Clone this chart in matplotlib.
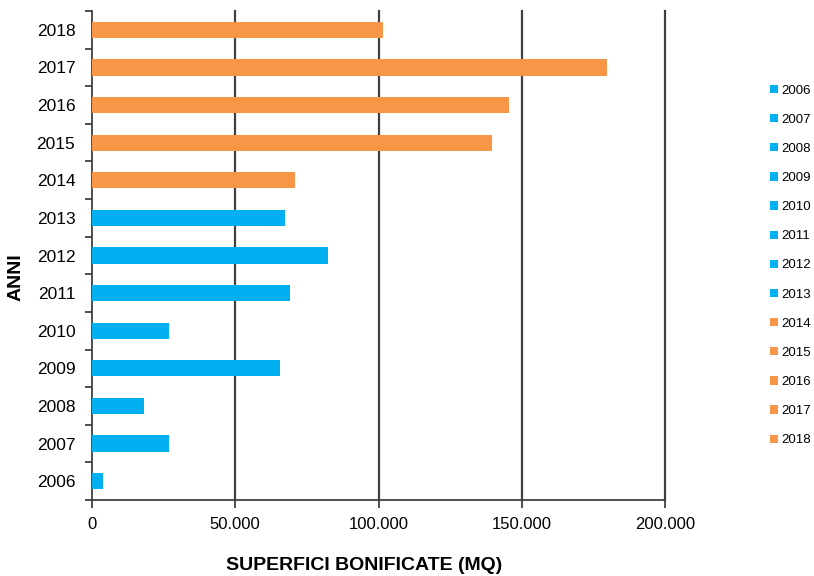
import matplotlib
matplotlib.use("Agg")
import matplotlib.pyplot as plt
from matplotlib.patches import Patch
from matplotlib.ticker import FuncFormatter, FixedLocator

plt.rcParams['font.family'] = ['Liberation Sans', 'DejaVu Sans']

# dati
anni = ['2006', '2007', '2008', '2009', '2010', '2011', '2012',
        '2013', '2014', '2015', '2016', '2017', '2018']
superfici = [3700, 26800, 18000, 65500, 26800, 69000, 82500,
             67500, 71000, 139700, 145600, 179800, 101400]
colori = ['#00B0F0'] * 8 + ['#F79646'] * 5
x_ticks = [0, 50000, 100000, 150000, 200000]

fig = plt.figure(figsize=(8.14, 5.76), dpi=100)
ax = fig.add_axes([92 / 814, 1 - 500 / 576, (665 - 92) / 814, (500 - 11) / 576])

pos = list(range(len(anni)))
ax.barh(pos, superfici, height=0.43, color=colori, zorder=3)

ax.set_xlim(0, 200000)
ax.set_ylim(-0.5, len(anni) - 0.5)

# griglia verticale scura
for v in x_ticks[1:]:
    ax.axvline(v, color='#404040', lw=1.6, zorder=1, clip_on=False)

ax.set_xticks(x_ticks)
ax.xaxis.set_major_formatter(FuncFormatter(lambda v, p: f"{int(v):,}".replace(',', '.')))
ax.tick_params(axis='x', length=6, width=1.3, color='#404040', labelsize=12, pad=6)

ax.set_yticks(pos)
ax.set_yticklabels(anni)
ax.yaxis.set_minor_locator(FixedLocator([p - 0.5 for p in range(len(anni) + 1)]))
ax.tick_params(axis='y', which='major', length=0, labelsize=12.5, pad=12)
ax.tick_params(axis='y', which='minor', length=5, width=1.3, color='#404040')

for s in ['top', 'right']:
    ax.spines[s].set_visible(False)
for s in ['left', 'bottom']:
    ax.spines[s].set_color('#404040')
    ax.spines[s].set_linewidth(1.3)

fig.text(364 / 814, 1 - 565 / 576, 'SUPERFICI BONIFICATE (MQ)', fontsize=14,
         fontweight='bold', ha='center', va='center')
fig.text(16 / 814, 1 - 277 / 576, 'ANNI', fontsize=14, fontweight='bold',
         rotation=90, ha='center', va='center')

# legenda a destra
handles = [Patch(facecolor=c, edgecolor='none') for c in colori]
fig.legend(handles, anni, loc='center left', bbox_to_anchor=(770 / 814, 1 - 265.5 / 576),
           frameon=False, fontsize=9.5, labelspacing=1.3, handlelength=0.6,
           handleheight=0.6, handletextpad=0.25, borderpad=0, borderaxespad=0)

plt.savefig('out.png', dpi=100)
plt.close()
